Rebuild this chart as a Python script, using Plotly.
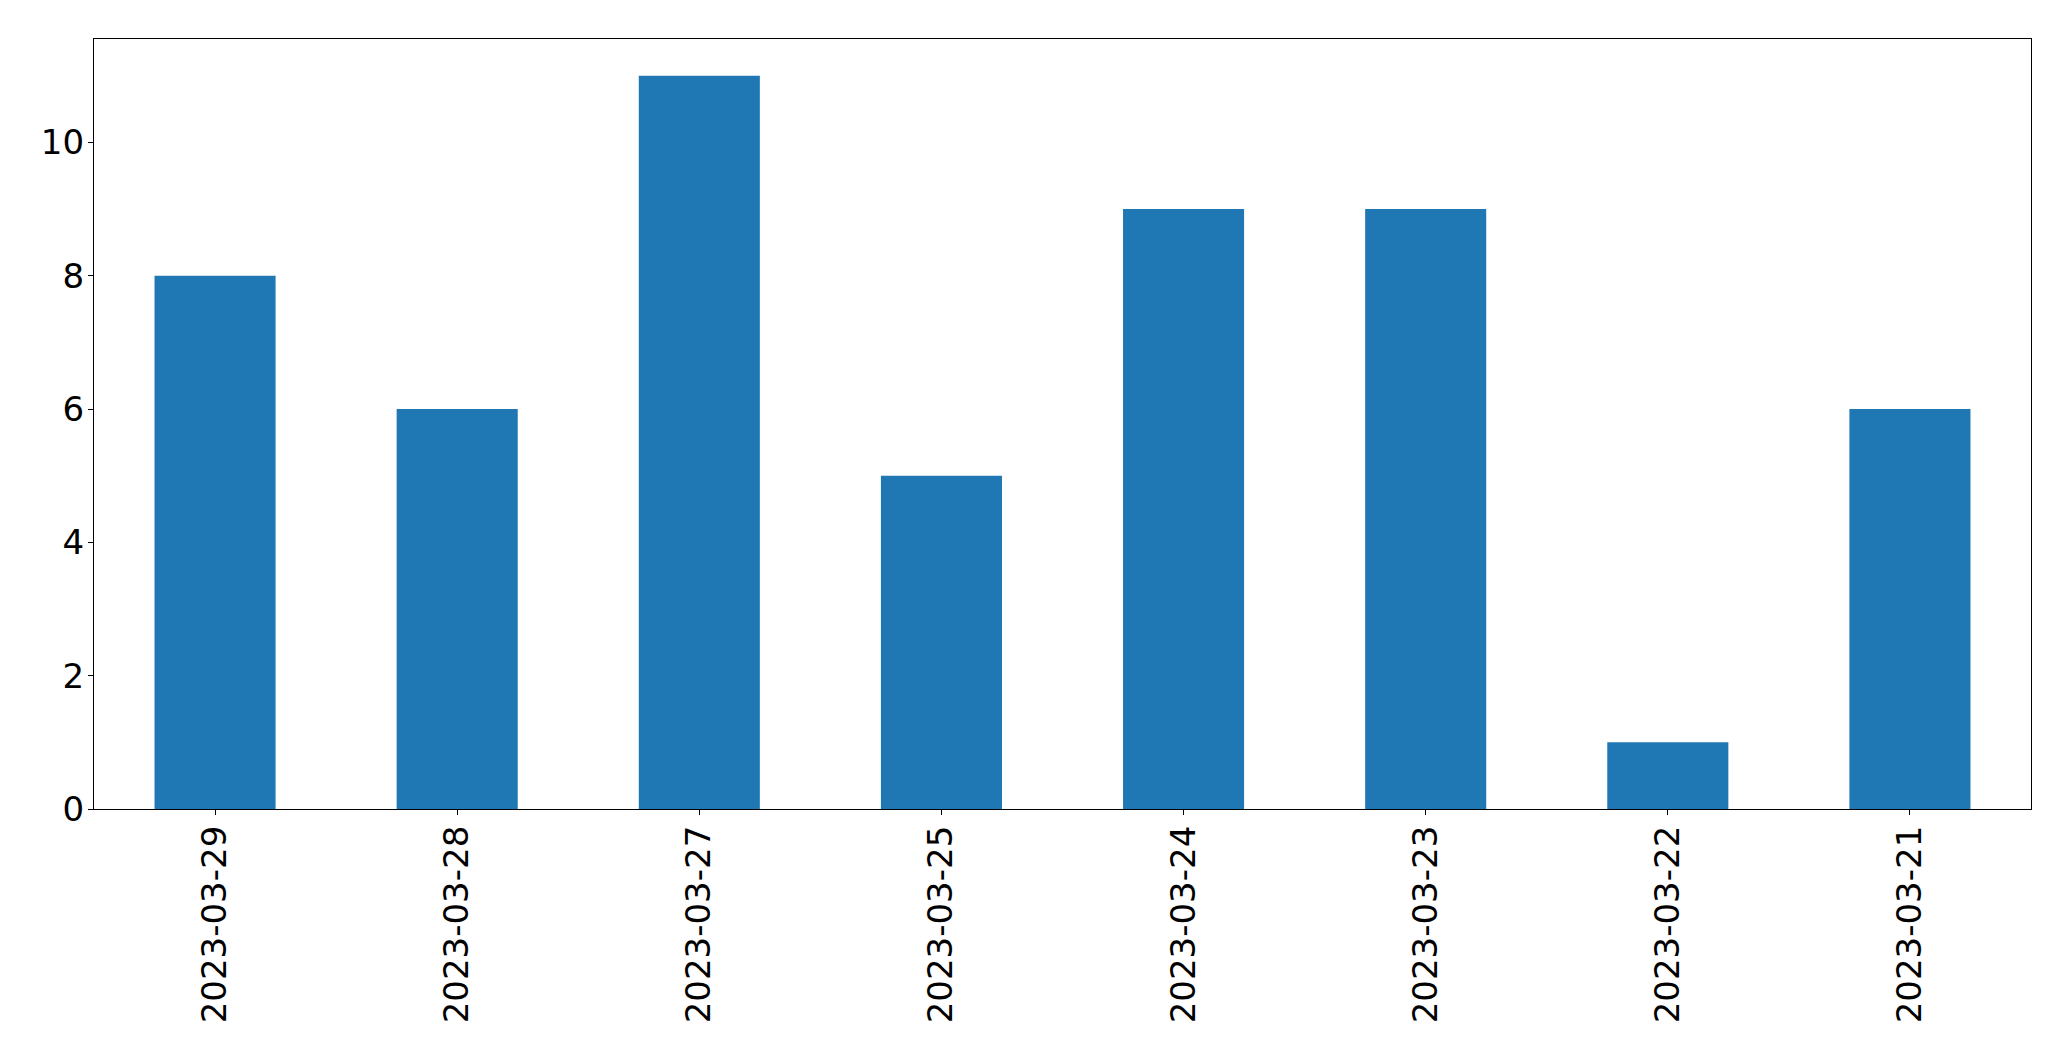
import plotly.graph_objects as go

dates = ["2023-03-29", "2023-03-28", "2023-03-27", "2023-03-25",
         "2023-03-24", "2023-03-23", "2023-03-22", "2023-03-21"]
counts = [8, 6, 11, 5, 9, 9, 1, 6]
y_ticks = [0, 2, 4, 6, 8, 10]

fig = go.Figure(go.Bar(x=list(range(len(dates))), y=counts, width=0.5,
                       marker=dict(color="#1f77b4", line=dict(width=0))))

fig.update_layout(
    width=2063, height=1053,
    margin=dict(l=86, r=40, t=31, b=252),
    paper_bgcolor="white", plot_bgcolor="white",
    font=dict(family="DejaVu Sans", size=34, color="black"),
    showlegend=False,
)
fig.update_xaxes(
    range=[-0.5, len(dates) - 0.5],
    tickmode="array", tickvals=list(range(len(dates))), ticktext=dates,
    tickangle=-90, ticks="outside", ticklen=5, tickwidth=1, tickcolor="black",
    ticklabelstandoff=-3,
    showline=True, linecolor="black", linewidth=1.3, mirror=True,
    showgrid=False, zeroline=False,
)
fig.update_yaxes(
    range=[0, 11.55],
    tickmode="array", tickvals=y_ticks,
    ticks="outside", ticklen=5, tickwidth=1, tickcolor="black",
    ticklabelstandoff=-3,
    showline=True, linecolor="black", linewidth=1.3, mirror=True,
    showgrid=False, zeroline=False,
)

fig.write_html("out.html")
